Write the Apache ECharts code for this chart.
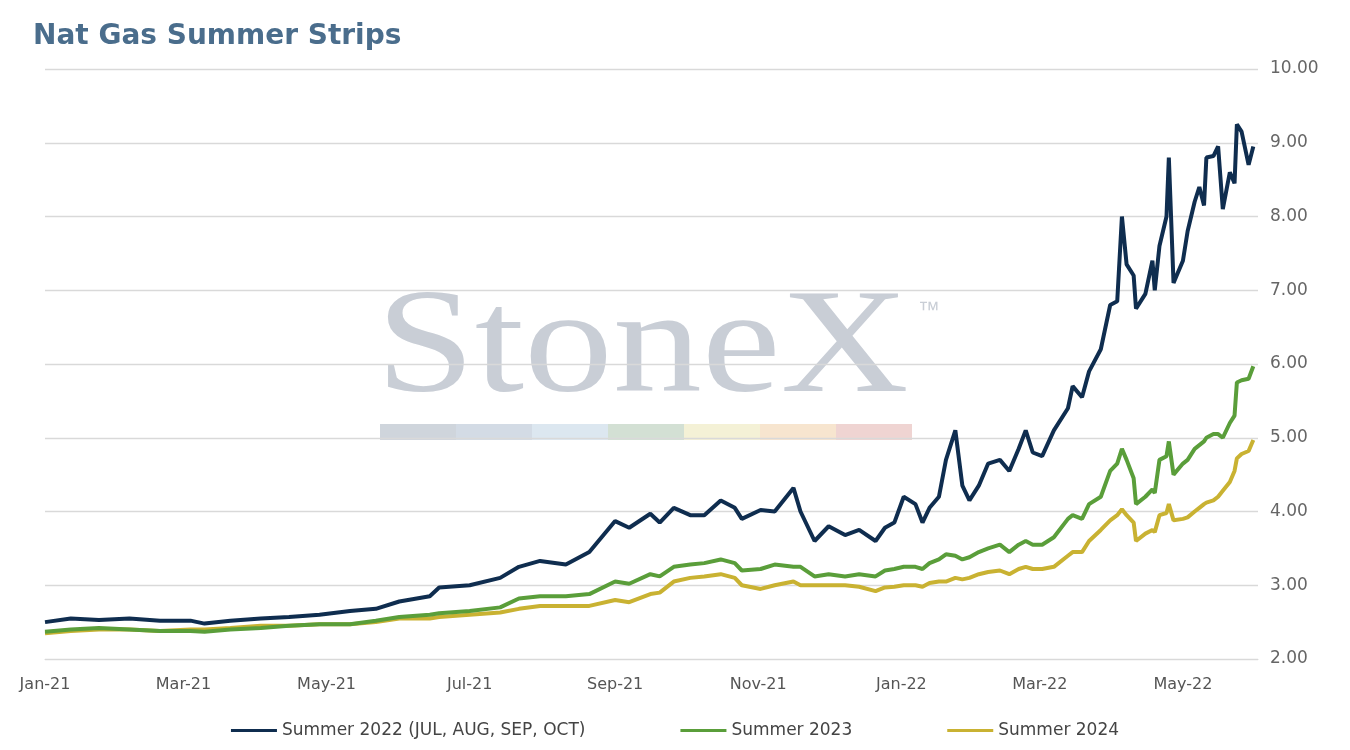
<!DOCTYPE html>
<html><head><meta charset="utf-8">
<script src="https://cdn.jsdelivr.net/npm/echarts@6/dist/echarts.min.js"></script>
<style>html,body{margin:0;padding:0;background:#fff}#c{width:1350px;height:750px}</style>
</head><body><div id="c"></div>
<script>
// day offsets from 2021-01-01
const days = [0,11,23,36,49,62,68,79,92,104,117,130,141,151,164,168,181,194,202,211,222,232,243,249,258,262,268,275,281,288,294,297,305,311,319,322,328,334,341,347,354,358,362,366,371,374,377,381,384,388,391,394,398,402,407,411,415,418,421,425,430,436,438,442,445,450,454,457,459,461,464,465,469,472,473,475,478,479,481,485,487,490,492,494,495,498,500,502,505,507,508,510,513,515];
const summer2022 = [2.50,2.55,2.53,2.55,2.52,2.52,2.48,2.52,2.55,2.57,2.60,2.65,2.68,2.78,2.85,2.97,3.00,3.10,3.25,3.33,3.28,3.45,3.87,3.78,3.97,3.85,4.05,3.95,3.95,4.15,4.05,3.90,4.02,4.00,4.32,4.00,3.60,3.80,3.68,3.75,3.60,3.78,3.85,4.20,4.10,3.85,4.05,4.20,4.70,5.10,4.35,4.15,4.35,4.65,4.70,4.55,4.85,5.10,4.80,4.75,5.10,5.40,5.70,5.55,5.90,6.20,6.80,6.85,8.00,7.35,7.20,6.75,6.95,7.40,7.00,7.60,8.00,8.80,7.10,7.40,7.80,8.20,8.40,8.15,8.80,8.82,8.95,8.10,8.60,8.45,9.25,9.15,8.70,8.95];
const summer2023 = [2.37,2.40,2.42,2.40,2.38,2.38,2.37,2.40,2.42,2.45,2.47,2.47,2.52,2.57,2.60,2.62,2.65,2.70,2.82,2.85,2.85,2.88,3.05,3.02,3.15,3.12,3.25,3.28,3.30,3.35,3.30,3.20,3.22,3.28,3.25,3.25,3.12,3.15,3.12,3.15,3.12,3.20,3.22,3.25,3.25,3.22,3.30,3.35,3.42,3.40,3.35,3.38,3.45,3.50,3.55,3.45,3.55,3.60,3.55,3.55,3.65,3.90,3.95,3.90,4.10,4.20,4.55,4.65,4.85,4.70,4.45,4.10,4.20,4.30,4.25,4.70,4.75,4.95,4.50,4.65,4.70,4.85,4.90,4.95,5.00,5.05,5.05,5.00,5.20,5.30,5.75,5.78,5.80,5.97];
const summer2024 = [2.35,2.38,2.40,2.40,2.38,2.40,2.40,2.42,2.45,2.45,2.47,2.47,2.50,2.55,2.55,2.57,2.60,2.63,2.68,2.72,2.72,2.72,2.80,2.77,2.88,2.90,3.05,3.10,3.12,3.15,3.10,3.00,2.95,3.00,3.05,3.00,3.00,3.00,3.00,2.98,2.92,2.97,2.98,3.00,3.00,2.98,3.03,3.05,3.05,3.10,3.08,3.10,3.15,3.18,3.20,3.15,3.22,3.25,3.22,3.22,3.25,3.40,3.45,3.45,3.60,3.75,3.88,3.95,4.03,3.95,3.85,3.60,3.70,3.75,3.72,3.95,3.98,4.10,3.88,3.90,3.92,4.00,4.05,4.10,4.12,4.15,4.20,4.28,4.40,4.55,4.72,4.78,4.82,4.97];
const tickDays = [0,59,120,181,243,304,365,424,485];
const seriesNames = ['Summer 2022 (JUL, AUG, SEP, OCT)','Summer 2023','Summer 2024'];
const colors = ['#0f2d4f','#5a9e3a','#c9b232'];
const months = ['Jan','Feb','Mar','Apr','May','Jun','Jul','Aug','Sep','Oct','Nov','Dec'];
const base = Date.UTC(2021,0,1), DAY = 86400000;
const mk = arr => days.map((d,i)=>[d,arr[i]]);
const F = '"DejaVu Sans", Verdana, sans-serif';
const chart = echarts.init(document.getElementById('c'));
const wmCols = ['#cfd5dc','#d3dbe5','#dce7f0','#d3e0d4','#f4f1d6','#f7e5cf','#efd4d2'];
const graphic = [{type:'text',x:376,y:278,scaleX:1.2,z:0,style:{text:'StoneX',font:'148px "Liberation Serif", "DejaVu Serif", serif',fill:'#c9ced6'}},
 {type:'text',left:918,top:300,z:0,style:{text:'™',font:'22px "Liberation Sans"',fill:'#c9ced6'}}];
wmCols.forEach((c,i)=>graphic.push({type:'rect',z:0,shape:{x:380+i*76,y:424,width:76,height:16},style:{fill:c}}));
chart.setOption({
  animation:false,
  title:{text:'Nat Gas Summer Strips',left:28,top:18,textStyle:{color:'#4a6d8c',fontSize:28,fontWeight:'bold',fontFamily:F}},
  graphic,
  grid:{left:45,right:92,top:69,bottom:91},
  legend:{bottom:6,left:'center',itemWidth:46,itemGap:95,icon:'rect',itemHeight:3,textStyle:{fontSize:17,color:'#444',fontFamily:F},data:seriesNames},
  xAxis:{type:'value',min:0,max:517,
    axisLine:{show:true,lineStyle:{color:'#d9d9d9'}},axisTick:{show:false},splitLine:{show:false},
    axisLabel:{customValues:tickDays,color:'#555',fontSize:16,fontFamily:F,margin:18,
      formatter:v=>{const d=new Date(base+v*DAY);return months[d.getUTCMonth()]+'-'+String(d.getUTCFullYear()).slice(2);}}},
  yAxis:{type:'value',position:'right',min:2,max:10,interval:1,
    axisLine:{show:false},axisTick:{show:false},
    splitLine:{lineStyle:{color:'#d9d9d9',width:1.3}},
    axisLabel:{formatter:v=>v.toFixed(2),color:'#666',fontSize:17,fontFamily:F,margin:12}},
  series:[summer2022,summer2023,summer2024].map((a,i)=>({name:seriesNames[i],type:'line',data:mk(a),showSymbol:false,
    z:10-i,lineStyle:{width:4,color:colors[i]},itemStyle:{color:colors[i]}}))
});
</script></body></html>
